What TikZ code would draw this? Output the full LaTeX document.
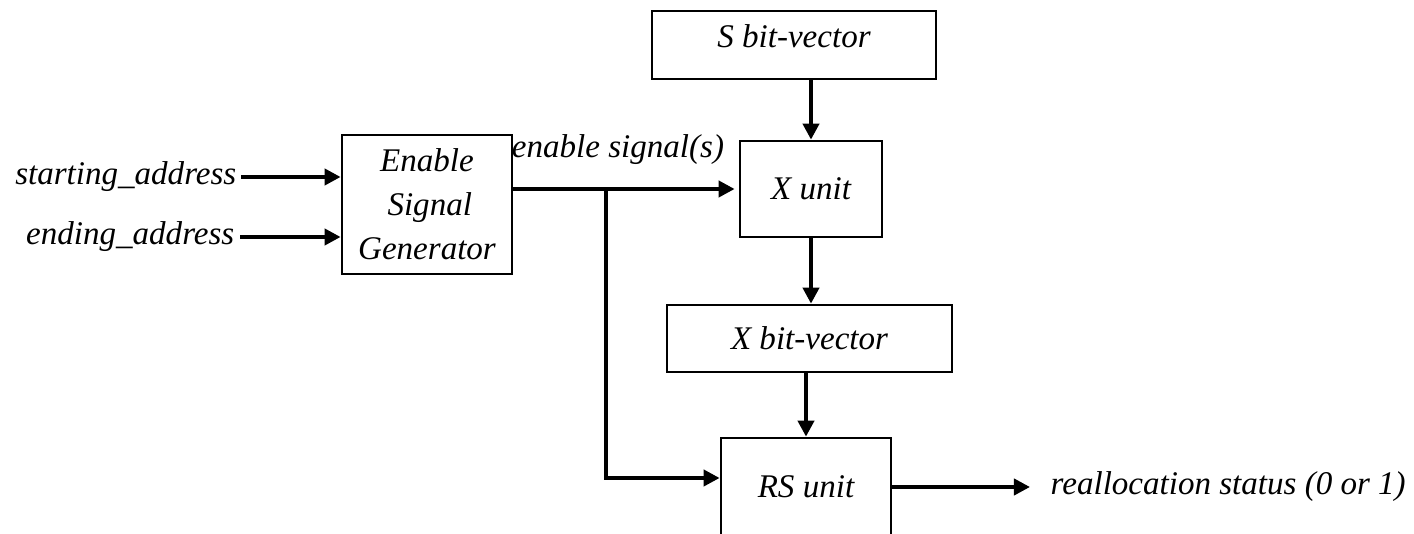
\documentclass[tikz,border=0pt]{standalone}
\usepackage{fontspec}
\setmainfont{Liberation Serif}
\usepackage{tikz}
\usetikzlibrary{arrows.meta,positioning,calc}

\begin{document}
\begin{tikzpicture}[x=0.01cm,y=-0.01cm,
    every node/.style={font=\fontsize{9.4}{12.5}\selectfont\itshape},
    block/.style={draw,line width=0.75pt,inner sep=0pt,align=center},
    wire/.style={line width=1.1pt},
    arr/.style={wire,-{Triangle[length=0.16cm,width=0.16cm]}}
  ]
    \useasboundingbox (0,0) rectangle (1414,534);
    \clip (0,0) rectangle (1414,534);

    \node[block,minimum width=1.70cm,minimum height=1.39cm] (esg) at (427,204.5) {Enable\\ \,Signal\\ Generator};
    \node[block,minimum width=2.84cm,minimum height=0.68cm,text depth=0.17cm] (sbv) at (794,45) {S bit-vector};
    \node[block,minimum width=1.42cm,minimum height=0.96cm] (xunit) at (811,189) {X unit};
    \node[block,minimum width=2.85cm,minimum height=0.67cm] (xbv) at (809.5,338.5) {X bit-vector};
    \node[block,minimum width=1.70cm,minimum height=0.98cm] (rs) at (806,487) {RS unit};

    \node[anchor=east,inner sep=0.04cm] (start) at (241,177) {starting\_address};
    \node[anchor=east,inner sep=0.05cm] (end) at (240,237) {ending\_address};
    \node[anchor=south,inner sep=0pt] (enlbl) at (618,165) {enable signal(s)};
    \node[anchor=west,inner sep=0.2cm] (out) at (1030,487) {reallocation status (0 or 1)};

    \coordinate (tap) at (606,189);

    \draw[arr] (start.east) -- (start.east -| esg.west);
    \draw[arr] (end.east) -- (end.east -| esg.west);
    \draw[arr,shorten >=0.04cm] (esg.east |- xunit.west) -- (xunit.west);
    \draw[arr] (tap) |- ([yshift=0.09cm]rs.west);
    \draw[arr] (sbv.south -| xunit.north) -- (xunit.north);
    \draw[arr] (xunit.south) -- (xunit.south |- xbv.north);
    \draw[arr] (rs.north |- xbv.south) -- (rs.north);
    \draw[arr] (rs.east) -- (out.west);
\end{tikzpicture}
\end{document}
